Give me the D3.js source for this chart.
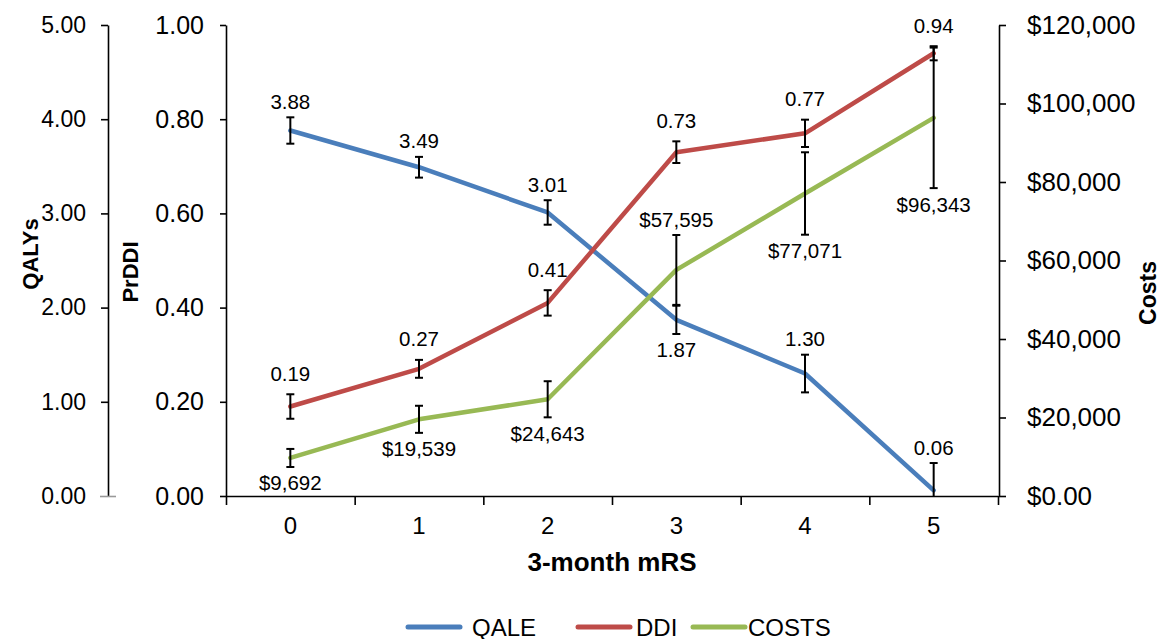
<!DOCTYPE html>
<html><head><meta charset="utf-8">
<script src="https://cdn.jsdelivr.net/npm/d3@7"></script>
<style>
body{margin:0;background:#fff}
svg{display:block}
text{font-family:"Liberation Sans",Arial,sans-serif;fill:#000}
</style>
</head><body>
<svg id="c" width="1171" height="639"></svg>
<script>
// ---- data ----
const categories = ["0","1","2","3","4","5"];
const qale = [3.88, 3.49, 3.01, 1.87, 1.30, 0.06];
const qaleErr = [0.14, 0.11, 0.13, 0.15, 0.20, 0.29];
const ddi = [0.19, 0.27, 0.41, 0.73, 0.77, 0.94];
const ddiErr = [0.026, 0.019, 0.027, 0.023, 0.029, 0.015];
const costs = [9692, 19539, 24643, 57595, 77071, 96343];
const costsErr = [2300, 3450, 4600, 8900, 10500, 17900];
const qaleLabelSide = ["above","above","above","below","above","above"];
const ddiLabelSide = ["above","above","above","above","above","above"];
const costsLabelSide = ["below","below","below","above","below","below"];
const qalyTicks = [0, 1, 2, 3, 4, 5];
const ddiTicks = [0, 0.2, 0.4, 0.6, 0.8, 1.0];
const costTicks = [0, 20000, 40000, 60000, 80000, 100000, 120000];
const legendNames = ["QALE", "DDI", "COSTS"];
const seriesColors = ["#4a7ebb", "#be4b48", "#98b954"];

// ---- layout ----
const svg = d3.select("#c");
const plotTop = 25, plotBottom = 496, plotLeft = 226, plotRight = 998;
const x = d3.scaleBand().domain(categories).range([plotLeft, plotRight]);
const xl = d3.scaleLinear().domain([-0.5, categories.length - 0.5]).range([plotLeft, plotRight]);
const yQ = d3.scaleLinear().domain([0, 5]).range([plotBottom, plotTop]);
const yD = d3.scaleLinear().domain([0, 1]).range([plotBottom, plotTop]);
const yC = d3.scaleLinear().domain([0, 120000]).range([plotBottom, plotTop]);
const cx = c => x(c) + x.bandwidth() / 2;

function styleAxis(g, size) {
  g.selectAll("path.domain").attr("stroke", "#000").attr("stroke-width", 1.6);
  g.selectAll(".tick line").attr("stroke", "#000").attr("stroke-width", 1.6);
  g.selectAll(".tick text").attr("font-size", size).attr("font-family", '"Liberation Sans",Arial,sans-serif').attr("fill", "#000");
}

// QALY axis
const gQ = svg.append("g").attr("transform", "translate(108,0)")
  .call(d3.axisLeft(yQ).tickValues(qalyTicks).tickFormat(d3.format(".2f")).tickSize(7).tickSizeOuter(0).tickPadding(15));
styleAxis(gQ, 23);
gQ.selectAll(".tick").filter(d => d === 0).select("line").attr("stroke", "#999").attr("x2", 8).attr("x1", -8);

// PrDDI axis
const gD = svg.append("g").attr("transform", `translate(${plotLeft},0)`)
  .call(d3.axisLeft(yD).tickValues(ddiTicks).tickFormat(d3.format(".2f")).tickSize(6).tickSizeOuter(0).tickPadding(16));
styleAxis(gD, 25);

// Costs axis
const gC = svg.append("g").attr("transform", `translate(${plotRight + 1},0)`)
  .call(d3.axisRight(yC).tickValues(costTicks).tickFormat(d => d === 0 ? "$0.00" : "$" + d3.format(",")(d)).tickSize(7).tickSizeOuter(0).tickPadding(21));
styleAxis(gC, 26);

// X axis: boundary ticks
const bounds = d3.range(categories.length + 1).map(i => i - 0.5);
const gX = svg.append("g").attr("transform", `translate(0,${plotBottom})`)
  .call(d3.axisBottom(xl).tickValues(bounds).tickFormat("").tickSize(9).tickSizeOuter(0));
styleAxis(gX, 22);
const gXL = svg.append("g").attr("transform", `translate(0,${plotBottom})`)
  .call(d3.axisBottom(x).tickSize(0).tickPadding(21));
gXL.select("path.domain").remove();
styleAxis(gXL, 24);

// axis titles
svg.append("text").attr("transform", "translate(30,254) rotate(-90)").attr("text-anchor", "middle")
  .attr("dominant-baseline", "central").attr("font-weight", "bold").attr("font-size", 22).text("QALYs");
svg.append("text").attr("transform", "translate(130,272) rotate(-90)").attr("text-anchor", "middle")
  .attr("dominant-baseline", "central").attr("font-weight", "bold").attr("font-size", 22).text("PrDDI");
svg.append("text").attr("transform", "translate(1148,293) rotate(-90)").attr("text-anchor", "middle")
  .attr("dominant-baseline", "central").attr("font-weight", "bold").attr("font-size", 23).text("Costs");
svg.append("text").attr("x", 612).attr("y", 562).attr("text-anchor", "middle")
  .attr("dominant-baseline", "central").attr("font-weight", "bold").attr("font-size", 26).text("3-month mRS");

// series
const series = [
  {vals: qale, err: qaleErr, y: yQ, side: qaleLabelSide, fmt: d3.format(".2f"), color: seriesColors[0], gap: 16},
  {vals: ddi, err: ddiErr, y: yD, side: ddiLabelSide, fmt: d3.format(".2f"), color: seriesColors[1], gap: 21},
  {vals: costs, err: costsErr, y: yC, side: costsLabelSide, fmt: d => "$" + d3.format(",")(d), color: seriesColors[2], gap: 16}
];

const capW = 4;
series.forEach(s => {
  const line = d3.line().x((d, i) => cx(categories[i])).y(d => s.y(d));
  svg.append("path").datum(s.vals).attr("d", line).attr("fill", "none")
    .attr("stroke", s.color).attr("stroke-width", 4.5).attr("stroke-linejoin", "round").attr("stroke-linecap", "round");
});
series.forEach(s => {
  const g = svg.append("g").attr("stroke", "#000").attr("stroke-width", 2);
  s.vals.forEach((v, i) => {
    const xc = cx(categories[i]);
    const lo = v - s.err[i], hi = v + s.err[i];
    const loC = Math.max(lo, 0);
    g.append("line").attr("x1", xc).attr("x2", xc).attr("y1", s.y(loC)).attr("y2", s.y(hi));
    g.append("line").attr("x1", xc - capW).attr("x2", xc + capW).attr("y1", s.y(hi)).attr("y2", s.y(hi));
    if (lo >= 0) g.append("line").attr("x1", xc - capW).attr("x2", xc + capW).attr("y1", s.y(lo)).attr("y2", s.y(lo));
  });
});
series.forEach(s => {
  s.vals.forEach((v, i) => {
    const xc = cx(categories[i]);
    const yy = s.side[i] === "above" ? s.y(v + s.err[i]) - s.gap : s.y(Math.max(v - s.err[i], 0)) + s.gap;
    svg.append("text").attr("x", xc).attr("y", yy).attr("text-anchor", "middle")
      .attr("dominant-baseline", "central").attr("font-size", 20.5).text(s.fmt(v));
  });
});

// legend
const legendX = [408, 578, 693];
const legendTextX = [472, 636, 748];
legendNames.forEach((n, i) => {
  svg.append("line").attr("x1", legendX[i]).attr("x2", legendX[i] + 52).attr("y1", 627).attr("y2", 627)
    .attr("stroke", seriesColors[i]).attr("stroke-width", 5).attr("stroke-linecap", "round");
  svg.append("text").attr("x", legendTextX[i]).attr("y", 627).attr("dominant-baseline", "central")
    .attr("font-size", 24).text(n);
});
</script>
</body></html>
